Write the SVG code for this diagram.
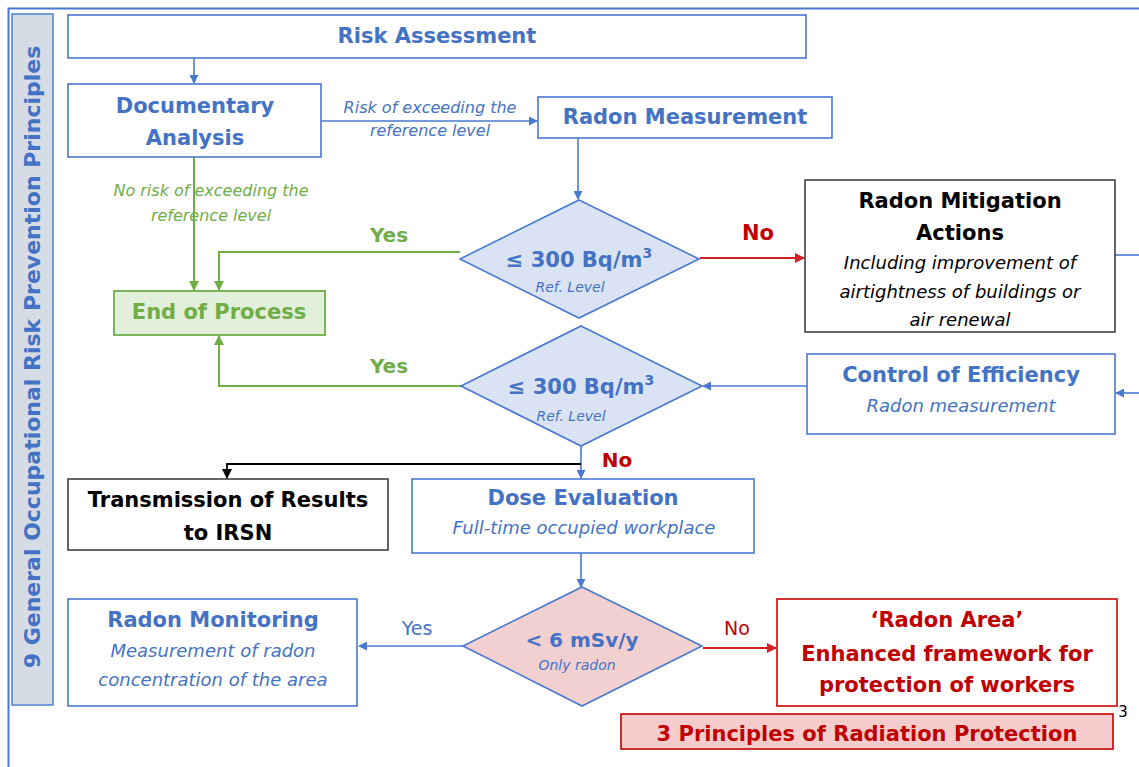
<svg xmlns="http://www.w3.org/2000/svg" width="1139" height="767" viewBox="0 0 1139 767">
<defs>
<style>
.b{fill:#fff;stroke:#4a78cf;stroke-width:1.6}
.t{font-family:"DejaVu Sans","Liberation Sans",sans-serif;text-anchor:middle}
.h{font-size:21px;font-weight:bold}
.i{font-size:18px;font-style:italic}
.blue{fill:#4472c4}
.green{fill:#70ad47}
.red{fill:#c00000}
.blk{fill:#000}
.cb{fill:none;stroke:#4a78cf;stroke-width:1.6}
.cg{fill:none;stroke:#70ad47;stroke-width:2}
.cr{fill:none;stroke:#d02020;stroke-width:2}
.ck{fill:none;stroke:#000;stroke-width:1.8}
</style>
<marker id="ab" viewBox="0 0 10 10" refX="9" refY="5" markerWidth="9" markerHeight="9" markerUnits="userSpaceOnUse" orient="auto"><path d="M0,0L10,5L0,10z" fill="#4a78cf"/></marker>
<marker id="ag" viewBox="0 0 10 10" refX="9" refY="5" markerWidth="10" markerHeight="10" markerUnits="userSpaceOnUse" orient="auto"><path d="M0,0L10,5L0,10z" fill="#70ad47"/></marker>
<marker id="ar" viewBox="0 0 10 10" refX="9" refY="5" markerWidth="10" markerHeight="10" markerUnits="userSpaceOnUse" orient="auto"><path d="M0,0L10,5L0,10z" fill="#d02020"/></marker>
<marker id="ak" viewBox="0 0 10 10" refX="9" refY="5" markerWidth="10" markerHeight="10" markerUnits="userSpaceOnUse" orient="auto"><path d="M0,0L10,5L0,10z" fill="#000"/></marker>
</defs>
<rect width="1139" height="767" fill="#fff"/>
<path d="M8.5,767V8.5H1139" fill="none" stroke="#4a78cf" stroke-width="2"/>

<g id="sidebar">
<rect x="12" y="14" width="41" height="691" fill="#d6dce5" stroke="#5b87d6" stroke-width="1.6"/>
<text class="t blue" font-size="22" font-weight="bold" transform="translate(40,357) rotate(-90)">9 General Occupational Risk Prevention Principles</text>
</g>

<g id="connectors">
<path class="cb" d="M194,58V83" marker-end="url(#ab)"/>
<path class="cb" d="M321,121H537" marker-end="url(#ab)"/>
<path class="cb" d="M578,138V199" marker-end="url(#ab)"/>
<path class="cg" d="M194,157V290" marker-end="url(#ag)"/>
<path class="cg" d="M460,252H219V290" marker-end="url(#ag)"/>
<path class="cr" d="M700,258H804" marker-end="url(#ar)"/>
<path class="cb" d="M1115,255H1139"/>
<path class="cb" d="M1139,393H1116" marker-end="url(#ab)"/>
<path class="cb" d="M807,386H703" marker-end="url(#ab)"/>
<path class="cg" d="M461,386H219V336" marker-end="url(#ag)"/>
<path class="cb" d="M581,446V478" marker-end="url(#ab)"/>
<path class="ck" d="M581,464H227V478" marker-end="url(#ak)"/>
<path class="cb" d="M581,553V587" marker-end="url(#ab)"/>
<path class="cb" d="M463,646H359" marker-end="url(#ab)"/>
<path class="cr" d="M703,648H776" marker-end="url(#ar)"/>
<text class="t" x="430" y="113" font-size="16" font-style="italic" fill="#4472c4">Risk of exceeding the</text>
<text class="t" x="430" y="136" font-size="16" font-style="italic" fill="#4472c4">reference level</text>
<text class="t" x="211" y="196" font-size="16" font-style="italic" fill="#70ad47">No risk of exceeding the</text>
<text class="t" x="211" y="221" font-size="16" font-style="italic" fill="#70ad47">reference level</text>
<text class="t green" x="389" y="242" font-size="20" font-weight="bold">Yes</text>
<text class="t red" x="758" y="240" font-size="21" font-weight="bold">No</text>
<text class="t green" x="389" y="373" font-size="20" font-weight="bold">Yes</text>
<text class="t red" x="617" y="467" font-size="20" font-weight="bold">No</text>
<text class="t blue" x="417" y="635" font-size="19">Yes</text>
<text class="t red" x="737" y="635" font-size="19">No</text>
</g>

<g id="risk-assessment">
<rect class="b" x="68" y="15" width="738" height="43"/>
<text class="t h blue" x="437" y="43">Risk Assessment</text>
</g>

<g id="documentary-analysis">
<rect class="b" x="68" y="84" width="253" height="73"/>
<text class="t h blue" x="195" y="113">Documentary</text>
<text class="t h blue" x="195" y="145">Analysis</text>
</g>

<g id="radon-measurement">
<rect class="b" x="538" y="97" width="294" height="41"/>
<text class="t h blue" x="685" y="124">Radon Measurement</text>
</g>

<g id="decision-1">
<polygon points="579,200 699,259 579,318 460,259" fill="#dae3f3" stroke="#4a78cf" stroke-width="1.6"/>
<text class="t blue" x="579" y="267" font-size="21" font-weight="bold">≤ 300 Bq/m<tspan font-size="14" dy="-9">3</tspan></text>
<text class="t blue" x="570" y="292" font-size="14" font-style="italic">Ref. Level</text>
</g>

<g id="end-of-process">
<rect x="114" y="291" width="211" height="44" fill="#e2efda" stroke="#70ad47" stroke-width="1.8"/>
<text class="t h green" x="219" y="319">End of Process</text>
</g>

<g id="radon-mitigation">
<rect x="805" y="180" width="310" height="152" fill="#fff" stroke="#404040" stroke-width="1.6"/>
<text class="t h blk" x="960" y="208">Radon Mitigation</text>
<text class="t h blk" x="960" y="240">Actions</text>
<text class="t i blk" x="960" y="269">Including improvement of</text>
<text class="t i blk" x="960" y="298">airtightness of buildings or</text>
<text class="t i blk" x="960" y="326">air renewal</text>
</g>

<g id="control-of-efficiency">
<rect class="b" x="807" y="354" width="308" height="80"/>
<text class="t h blue" x="961" y="382">Control of Efficiency</text>
<text class="t i blue" x="961" y="412">Radon measurement</text>
</g>

<g id="decision-2">
<polygon points="581,326 702,386 581,446 461,386" fill="#dae3f3" stroke="#4a78cf" stroke-width="1.6"/>
<text class="t blue" x="581" y="394" font-size="21" font-weight="bold">≤ 300 Bq/m<tspan font-size="14" dy="-9">3</tspan></text>
<text class="t blue" x="571" y="421" font-size="14" font-style="italic">Ref. Level</text>
</g>

<g id="transmission">
<rect x="68" y="479" width="320" height="71" fill="#fff" stroke="#404040" stroke-width="1.6"/>
<text class="t h blk" x="228" y="507">Transmission of Results</text>
<text class="t h blk" x="228" y="540">to IRSN</text>
</g>

<g id="dose-evaluation">
<rect class="b" x="412" y="479" width="342" height="74"/>
<text class="t h blue" x="583" y="505">Dose Evaluation</text>
<text class="t i blue" x="584" y="534">Full-time occupied workplace</text>
</g>

<g id="decision-3">
<polygon points="582,587 702,646 582,706 463,646" fill="#f2d0d0" stroke="#4a78cf" stroke-width="1.6"/>
<text class="t blue" x="582" y="647" font-size="20" font-weight="bold">&lt; 6 mSv/y</text>
<text class="t blue" x="577" y="670" font-size="14" font-style="italic">Only radon</text>
</g>

<g id="radon-monitoring">
<rect class="b" x="68" y="599" width="289" height="107"/>
<text class="t h blue" x="213" y="627">Radon Monitoring</text>
<text class="t i blue" x="213" y="657">Measurement of radon</text>
<text class="t i blue" x="213" y="686">concentration of the area</text>
</g>

<g id="radon-area">
<rect x="777" y="599" width="340" height="107" fill="#fff" stroke="#d02020" stroke-width="1.8"/>
<text class="t h red" x="947" y="627">‘Radon Area’</text>
<text class="t h red" x="947" y="661">Enhanced framework for</text>
<text class="t h red" x="947" y="692">protection of workers</text>
</g>

<g id="principles">
<rect x="621" y="714" width="492" height="35" fill="#f4cccc" stroke="#c00000" stroke-width="1.6"/>
<text class="t h red" x="867" y="741" font-size="20">3 Principles of Radiation Protection</text>
<text class="t blk" x="1123" y="717" font-size="15">3</text>
</g>
</svg>
